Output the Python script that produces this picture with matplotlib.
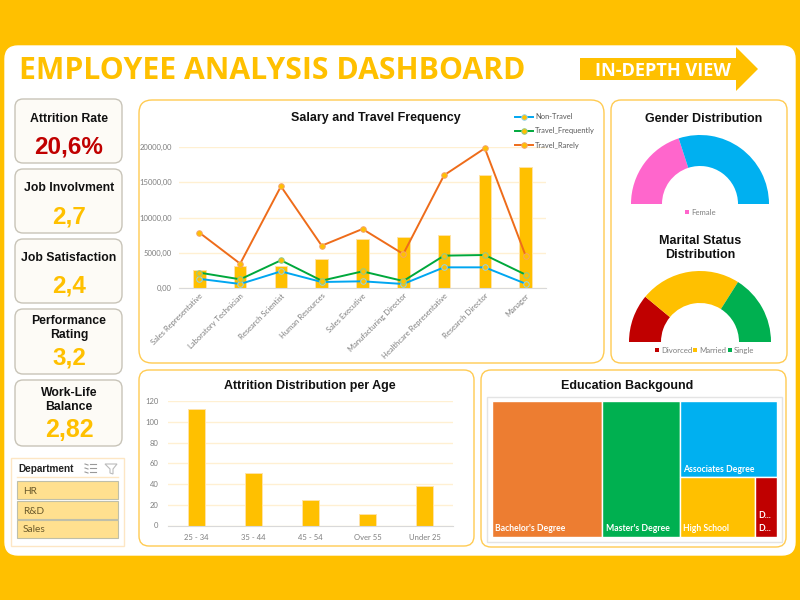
# employee analysis dashboard, redrawn with matplotlib
# page layout is in pixels, charts get their own axes

import matplotlib
matplotlib.use("Agg")
import matplotlib.pyplot as plt
from matplotlib.patches import FancyBboxPatch, Polygon, Rectangle

GOLD = "#FFC000"
PANEL_EDGE = "#FFCB52"
GRID = "#FFF0D2"
GREY = "#7F7F7F"
HEAD = "Liberation Sans"
BODY = "Open Sans"
SMALL = "Lato"

# data
jobs = ["Sales Representative", "Laboratory Technician", "Research Scientist",
        "Human Resources", "Sales Executive", "Manufacturing Director",
        "Healthcare Representative", "Research Director", "Manager"]
salary = [2500, 3100, 3100, 4170, 6900, 7190, 7470, 15990, 17120]
non_travel = [1300, 570, 2360, 850, 950, 570, 2930, 2930, 610]
travel_freq = [2180, 1230, 3930, 1040, 2360, 990, 4590, 4680, 1890]
travel_rare = [7850, 3450, 14420, 6000, 8370, 4820, 15990, 19820, 4590]
salary_ticks = [0, 5000, 10000, 15000, 20000]
salary_tick_labels = ["0,00", "5000,00", "10000,00", "15000,00", "20000,00"]

ages = ["25 - 34", "35 - 44", "45 - 54", "Over 55", "Under 25"]
attrition = [112, 51, 25, 11, 38]
age_ticks = [0, 20, 40, 60, 80, 100, 120]

gender_values = [40, 60]
gender_colors = ["#FF66CC", "#00B0F0"]
marital_labels = ["Divorced", "Married", "Single"]
marital_values = [22, 46, 32]
marital_colors = ["#C00000", GOLD, "#00B050"]

edu_labels = ["Bachelor's Degree", "Master's Degree", "Associates Degree",
              "High School", "D...\nD..."]
edu_values = [572, 398, 282, 170, 48]
edu_colors = ["#ED7D31", "#00B050", "#00B0F0", GOLD, "#C00000"]

kpi_labels = ["Attrition Rate", "Job Involvment", "Job Satisfaction",
              "Performance\nRating", "Work-Life\nBalance"]
kpi_values = ["20,6%", "2,7", "2,4", "3,2", "2,82"]
departments = ["HR", "R&D", "Sales"]

fig = plt.figure(figsize=(8, 6), dpi=100, facecolor=GOLD)
page = fig.add_axes([0, 0, 1, 1], zorder=0)
page.set_xlim(0, 800)
page.set_ylim(600, 0)
page.axis("off")


def axes_px(left, top, right, bottom):
    return fig.add_axes([left / 800, 1 - bottom / 600, (right - left) / 800,
                         (bottom - top) / 600], zorder=2)


def rounded(left, top, right, bottom, radius, face, edge, lw=1.0):
    page.add_patch(FancyBboxPatch((left, top), right - left, bottom - top,
                                  boxstyle=f"round,pad=0,rounding_size={radius}",
                                  fc=face, ec=edge, lw=lw))


def clean_bar_axes(ax):
    for side in ["top", "left", "right"]:
        ax.spines[side].set_visible(False)
    ax.spines["bottom"].set_color("#D9D9D9")
    ax.tick_params(length=0, labelsize=5.5, labelcolor=GREY, pad=3)
    ax.tick_params(axis="y", pad=5)
    ax.grid(axis="y", color=GRID, lw=1)
    ax.set_axisbelow(True)
    ax.patch.set_alpha(0)
    for lab in ax.get_xticklabels() + ax.get_yticklabels():
        lab.set_family(SMALL)


# page and panels
rounded(5, 46, 795, 555, 13, "white", "white")
rounded(139, 100, 604, 363, 13, "white", PANEL_EDGE)
rounded(611, 100, 787, 363, 10, "white", PANEL_EDGE)
rounded(139, 370, 474, 546, 10, "white", PANEL_EDGE)
rounded(481, 370, 786, 547, 10, "white", PANEL_EDGE)

# header
page.text(19, 71, "EMPLOYEE ANALYSIS DASHBOARD", color=GOLD, family=BODY,
          weight="bold", size=21.7, va="center", ha="left")
page.add_patch(Polygon([(580, 58), (736, 58), (736, 47), (758, 69), (736, 91),
                        (736, 80), (580, 80)], fc=GOLD, ec="none"))
page.text(595, 71, "IN-DEPTH VIEW", color="white", family=BODY, weight="bold",
          size=13.1, va="center", ha="left")

# kpi cards
card_tops = [99, 169, 239, 309, 380]
card_bottoms = [163, 233, 303, 374, 446]
label_y = [119, 188, 258, 328, 400]
value_y = [147, 217, 286, 358, 430]
value_size = [17.5, 17.5, 17.5, 17.5, 18]
value_colors = ["#C00000", GOLD, GOLD, GOLD, GOLD]
for i in range(5):
    rounded(15, card_tops[i], 122, card_bottoms[i], 8, "#FDFBF6", "#C8C4B8", 1.0)
    page.text(69, label_y[i], kpi_labels[i], family=HEAD, weight="bold", size=8.8,
              ha="center", va="center", color="#111111", linespacing=1.2)
    page.text(69, value_y[i], kpi_values[i], family=HEAD, weight="bold",
              size=value_size[i], ha="center", va="center", color=value_colors[i])

# department slicer
page.add_patch(Rectangle((11, 458), 113, 88, fc="white", ec="#FDE6C4", lw=1))
page.text(18, 469, "Department", family=HEAD, weight="bold", size=7.2,
          va="center", color="#222222")
page.plot([17, 118], [477, 477], color="#FDE6C4", lw=1)
for y in [464, 468, 472]:
    page.plot([85, 88], [y, y + 1], color="#999999", lw=0.8)
    page.plot([90, 96], [y, y], color="#999999", lw=0.8)
page.add_patch(Polygon([(105, 464), (117, 464), (113, 469), (113, 474), (110, 473),
                        (110, 469)], fc="none", ec="#BBBBBB", lw=0.8))
button_tops = [481, 501, 520]
for name, top in zip(departments, button_tops):
    page.add_patch(Rectangle((17, top), 101, 17.5, fc="#FFE08F", ec="#BFBFA9", lw=0.8))
    page.text(23, top + 10, name, family=SMALL, size=7.3, va="center", color="#6B5A2B")

# salary and travel frequency
ax = axes_px(179, 147, 546, 288)
x = range(len(jobs))
ax.bar(x, salary, width=0.31, color=GOLD, edgecolor="#FFE3A6", lw=0.7, zorder=2)
for vals, color, edge, name in [(non_travel, "#00A6F0", "#8FD4F0", "Non-Travel"),
                                (travel_freq, "#00A83C", "#8FCB8F", "Travel_Frequently"),
                                (travel_rare, "#EE6C1A", "#F5A36C", "Travel_Rarely")]:
    ax.plot(x, vals, color=color, lw=1.4, marker="o", ms=4, mfc=GOLD, mec=edge,
            mew=0.7, label=name, zorder=3, clip_on=False)
ax.set_xlim(-0.5, 8.5)
ax.set_ylim(0, 20000)
ax.set_yticks(salary_ticks, salary_tick_labels)
ax.set_xticks(list(x), jobs, rotation=45, ha="right", rotation_mode="anchor")
clean_bar_axes(ax)
leg = ax.legend(loc="upper left", bbox_to_anchor=(0.915, 1.24), frameon=False,
                prop={"family": SMALL, "size": 5.4}, labelcolor="#595959",
                handlelength=2.4, handletextpad=0.3, labelspacing=0.96,
                borderpad=0, borderaxespad=0)
page.text(376, 118.5, "Salary and Travel Frequency", family=HEAD, weight="bold",
          size=9, ha="center", va="center", color="#111111")

# attrition per age
ax2 = axes_px(168, 401, 453, 525.5)
ax2.bar(ages, attrition, width=0.31, color=GOLD, edgecolor="#FFE3A6", lw=0.7, zorder=2)
ax2.set_xlim(-0.5, 4.5)
ax2.set_ylim(0, 120)
ax2.set_yticks(age_ticks)
clean_bar_axes(ax2)
ax2.tick_params(axis="x", pad=6)
ax2.tick_params(axis="y", pad=7)
page.text(310, 385.5, "Attrition Distribution per Age", family=HEAD, weight="bold",
          size=9, ha="center", va="center", color="#111111")


# half donuts: the lower half of each pie is an invisible slice
def gauge(cx, cy, outer, inner, values, colors):
    ax_g = axes_px(cx - outer, cy - outer, cx + outer, cy + outer)
    wedges, _ = ax_g.pie(values + [sum(values)], colors=colors + ["none"], radius=1,
                         startangle=180, counterclock=False,
                         wedgeprops={"width": (outer - inner) / outer,
                                     "edgecolor": "none"})
    wedges[-1].set_visible(False)
    ax_g.set_xlim(-1, 1)
    ax_g.set_ylim(-1, 1)


gauge(700, 204, 69, 38, gender_values, gender_colors)
gauge(700, 342, 71, 39, marital_values, marital_colors)
page.text(704, 119, "Gender Distribution", family=HEAD, weight="bold", size=9,
          ha="center", va="center", color="#111111")
page.text(700, 248, "Marital Status\nDistribution", family=HEAD, weight="bold", size=9,
          ha="center", va="center", color="#111111", linespacing=1.15)
page.add_patch(Rectangle((685, 210), 4, 4, fc="#FF66CC", ec="none"))
page.text(691.5, 212.5, "Female", family=SMALL, size=5.6, va="center", color=GREY)
for lx, name, color in zip([655, 693, 728], marital_labels, marital_colors):
    page.add_patch(Rectangle((lx, 348), 4, 4, fc=color, ec="none"))
    page.text(lx + 6, 350.5, name, family=SMALL, size=5.6, va="center", color=GREY)

# education treemap, boxes are worked out from the values
page.text(627, 385.5, "Education Backgound", family=HEAD, weight="bold", size=9,
          ha="center", va="center", color="#111111")
page.add_patch(Rectangle((487, 397), 295, 145, fc="white", ec="#E4E4E4", lw=1))
ax3 = axes_px(491.5, 401, 776.5, 536.5)
ax3.set_xlim(0, 1)
ax3.set_ylim(1, 0)
ax3.axis("off")
total = sum(edu_values)
w0 = edu_values[0] / total
w1 = edu_values[1] / total
w_rest = 1 - w0 - w1
rest = sum(edu_values[2:])
h2 = edu_values[2] / rest
bottom_pair = edu_values[3] + edu_values[4]
w3 = w_rest * edu_values[3] / bottom_pair
boxes = [(0, 0, w0, 1), (w0, 0, w1, 1), (w0 + w1, 0, w_rest, h2),
         (w0 + w1, h2, w3, 1 - h2), (w0 + w1 + w3, h2, w_rest - w3, 1 - h2)]
for (bx, by, bw, bh), name, color in zip(boxes, edu_labels, edu_colors):
    ax3.add_patch(Rectangle((bx, by), bw, bh, fc=color, ec="white", lw=1))
    ax3.text(bx + 3.5 / 285, by + bh - 3.5 / 135, name, family=SMALL, weight="bold",
             size=6.2, color="white", ha="left", va="bottom", linespacing=1.5)

fig.savefig("out.png", dpi=100, facecolor=GOLD)
